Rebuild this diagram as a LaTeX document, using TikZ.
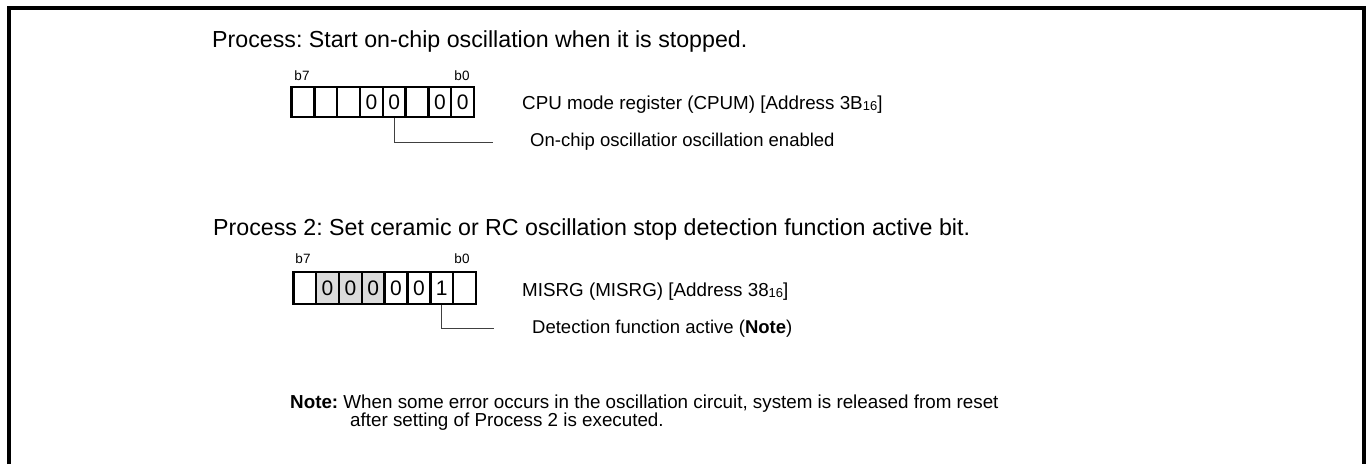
\documentclass[tikz,border=0pt]{standalone}
\usepackage{fontspec}
\setmainfont{Liberation Sans}
\frenchspacing
\begin{document}
\begin{tikzpicture}[x=1pt,y=-1pt,
  frameline/.style={line width=4pt},
  cell/.style={draw, line width=2.4pt, minimum width=22.8pt, inner sep=0pt, font=\fontsize{21}{21}\selectfont},
  graycell/.style={cell, fill=black!14},
  conn/.style={line width=1pt, draw=black!75},
  head/.style={anchor=base west, inner sep=0pt, font=\fontsize{23.2}{26}\selectfont},
  lab/.style={anchor=base west, inner sep=0pt, font=\fontsize{18.8}{22}\selectfont},
  sub/.style={anchor=base west, inner sep=0pt, font=\fontsize{18.5}{20}\selectfont},
  bit/.style={anchor=base, inner sep=0pt, font=\fontsize{13.5}{14}\selectfont},
  note/.style={anchor=base west, inner sep=0pt, align=left, font=\fontsize{18.8}{18}\selectfont}
]
\useasboundingbox (0,0) rectangle (1370,464);
\fill[white] (0,0) rectangle (1370,464);
% frame (open at bottom)
\draw[frameline] (9,464) -- (9,8) -- (1364,8) -- (1364,464);

% Process 1
\node[head] (p1) at (212,47) {Process: Start on-chip oscillation when it is stopped.};
\node[bit] (r1b7) at (302,80) {b7};
\node[bit] (r1b0) at (462,80) {b0};
\foreach \i/\t in {0/,1/,2/,3/0,4/0,5/,6/0,7/0} {
  \node[cell, minimum height=30pt] (r1c\i) at ({291.7+22.79*(\i+0.5)},102) {\t};
}
\node[lab] (r1l) at (522,109) {CPU mode register (CPUM) [Address 3B\raisebox{-1pt}{\fontsize{13}{13}\selectfont 16}]};
\coordinate (c1end) at (493,142);
\draw[conn] (r1c4.south) |- (c1end);
\node[sub] (r1s) at (530,146) {On-chip oscillatior oscillation enabled};

% Process 2
\node[head] (p2) at (213,235) {Process 2: Set ceramic or RC oscillation stop detection function active bit.};
\node[bit] (r2b7) at (303,263) {b7};
\node[bit] (r2b0) at (462,263) {b0};
\foreach \i/\t/\s in {0//cell,1/0/graycell,2/0/graycell,3/0/graycell,4/0/cell,5/0/cell,6/1/cell,7//cell} {
  \node[\s, minimum height=32pt] (r2c\i) at ({293.3+22.84*(\i+0.5)},288) {\t};
}
\node[lab] (r2l) at (522,296) {MISRG (MISRG) [Address 38\raisebox{-1pt}{\fontsize{13}{13}\selectfont 16}]};
\coordinate (c2end) at (494,328);
\draw[conn] (r2c6.south) |- (c2end);
\node[sub] (r2s) at (532,333) {Detection function active (\textbf{Note})};

% Note
\node[note] (n1) at (290,408) {\textbf{Note:} When some error occurs in the oscillation circuit, system is released from reset};
\node[note] (n2) at (350,426) {after setting of Process 2 is executed.};
\end{tikzpicture}
\end{document}
